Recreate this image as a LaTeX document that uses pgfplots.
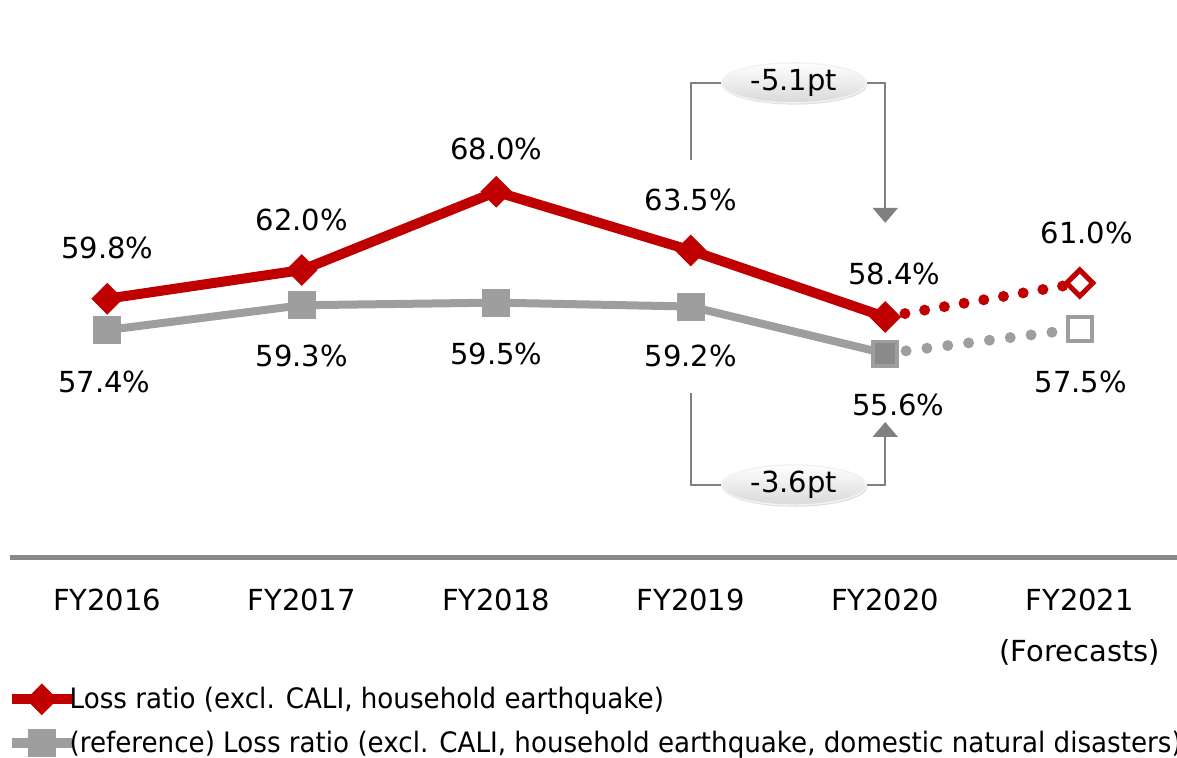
\documentclass[border=0pt]{standalone}
\usepackage{fontspec}
\setmainfont{DejaVu Sans}
\newfontfamily\legfont[FakeStretch=0.93]{DejaVu Sans}
\usepackage{pgfplots}
\usepackage{pgfplotstable}
\pgfplotsset{compat=1.18}
\usetikzlibrary{shapes.geometric,arrows.meta,calc,shadows}

\definecolor{lossred}{HTML}{C00000}
\definecolor{refgray}{HTML}{9E9E9E}
\definecolor{refdark}{HTML}{8A8A8A}
\definecolor{axisgray}{HTML}{898989}
\definecolor{annot}{HTML}{808080}
\newcommand\lbl{\fontsize{16.5}{19}\selectfont}

% x = category index, dx/dy = label offset in px
\pgfplotstableread{
x y dx dy
0 59.8 0 51
1 62.0 0 50
2 68.0 0 43
3 63.5 0 51
4 58.4 9 43
}\lossdata
\pgfplotstableread{
x y dx dy
5 61.0 7 50
}\lossfc
\pgfplotstableread{
x y dx dy
0 57.4 -3 -52
1 59.3 0 -51
2 59.5 0 -51
3 59.2 0 -49
4 55.6 13 -51
}\refdata
\pgfplotstableread{
x y dx dy
5 57.5 1 -53
}\reffc

\pgfplotsset{
  labelled/.style={
    point meta=y,
    nodes near coords={\pgfmathprintnumber[fixed,fixed zerofill,precision=1,assume math mode=true]{\pgfplotspointmeta}\%},
    visualization depends on={\thisrow{dx} \as \dx},
    visualization depends on={\thisrow{dy} \as \dy},
    every node near coord/.append style={anchor=center, xshift=\dx*0.02cm, yshift=\dy*0.02cm, font=\lbl, text=black}
  },
  dotted red/.style={lossred, line width=0.22cm, line cap=round, dash pattern=on 0pt off 0.4cm},
  dotted gray/.style={refgray, line width=0.22cm, line cap=round, dash pattern=on 0pt off 0.42cm},
}

\begin{document}
\begin{tikzpicture}
\begin{axis}[
  name=ax,
  width=23.34cm, height=11.14cm, scale only axis,
  xmin=-0.5, xmax=5.5, ymin=40, ymax=82.7,
  axis x line=bottom, axis y line=none,
  x axis line style={-, axisgray, line width=0.1cm},
  xtick={0,...,5},
  xticklabels={FY2016,FY2017,FY2018,FY2019,FY2020,{FY2021\\(Forecasts)}},
  xtick style={draw=none},
  xticklabel style={align=center, anchor=north, yshift=-0.45cm, font=\fontsize{16.5}{28.5}\selectfont},
  clip=false,
  reverse legend,
  legend cell align=left,
  legend style={at={(-0.003,-0.227)}, anchor=north west, draw=none, fill=none,
    font=\legfont\fontsize{16}{19}\selectfont, inner sep=0pt, row sep=7pt,
    nodes={inner xsep=0.5pt},
    /tikz/every odd column/.append style={column sep=-0.16cm}},
]
\addplot[dotted red, forget plot] coordinates {(4,58.4) (5,61.0)};
\addplot[dotted gray, forget plot] coordinates {(4,55.6) (5,57.5)};

\addplot[refgray, line width=0.16cm, mark=square*,
  mark options={line width=0.5pt, mark size=0.27cm, fill=refgray},
  labelled,
  legend image code/.code={\draw[mark repeat=2,mark phase=2,mark size=0.2cm, line width=0.2cm]
    plot coordinates {(0cm,0cm) (0.6cm,0cm) (1.2cm,0cm)};}]
  table[x=x,y=y] \refdata;
\addlegendentry{(reference) Loss ratio (excl. CALI, household earthquake, domestic natural disasters)}
\addplot[only marks, forget plot, mark=square*,
  mark options={refgray, line width=2pt, mark size=0.24cm, fill=refdark}]
  coordinates {(4,55.6)};

\addplot[lossred, line width=0.2cm, mark=square*,
  mark options={rotate=45, line width=0.5pt, mark size=0.215cm, fill=lossred},
  labelled,
  legend image code/.code={\draw[mark repeat=2,mark phase=2,mark size=0.16cm]
    plot coordinates {(0cm,0cm) (0.6cm,0cm) (1.2cm,0cm)};}]
  table[x=x,y=y] \lossdata;
\addlegendentry{Loss ratio (excl. CALI, household earthquake)}

\addplot[only marks, forget plot, mark=square*,
  mark options={lossred, rotate=45, line width=0.1cm, mark size=0.185cm, fill=white},
  labelled] table[x=x,y=y] \lossfc;
\addplot[only marks, forget plot, mark=square*,
  mark options={refgray, line width=0.08cm, mark size=0.24cm, fill=white},
  labelled] table[x=x,y=y] \reffc;

% change brackets
\tikzset{
  pill/.style={ellipse, minimum width=2.9cm, minimum height=0.8cm, inner sep=0pt,
    top color=white, bottom color=gray!30, draw=gray!10, line width=0.8pt, font=\lbl,
    drop shadow={shadow xshift=0.6pt, shadow yshift=-1pt, opacity=0.25}},
  bracket/.style={annot, line width=0.04cm},
  tip/.style={-{Triangle[width=0.5cm, length=0.3cm]}}
}
\node[pill] (up) at (3.53,76.35) {-5.1pt};
\draw[bracket] (3,70.44) |- (up.west);
\draw[bracket, tip] (up.east) -| (4,65.61);
\node[pill] (dn) at (3.53,45.52) {-3.6pt};
\draw[bracket] (3,52.58) |- (dn.west);
\draw[bracket, tip] (dn.east) -| (4,50.35);
\end{axis}
\pgfresetboundingbox
\path[use as bounding box] ($(ax.south west)+(-0.2cm,-4cm)$) rectangle (ax.north east);
\end{tikzpicture}
\end{document}
